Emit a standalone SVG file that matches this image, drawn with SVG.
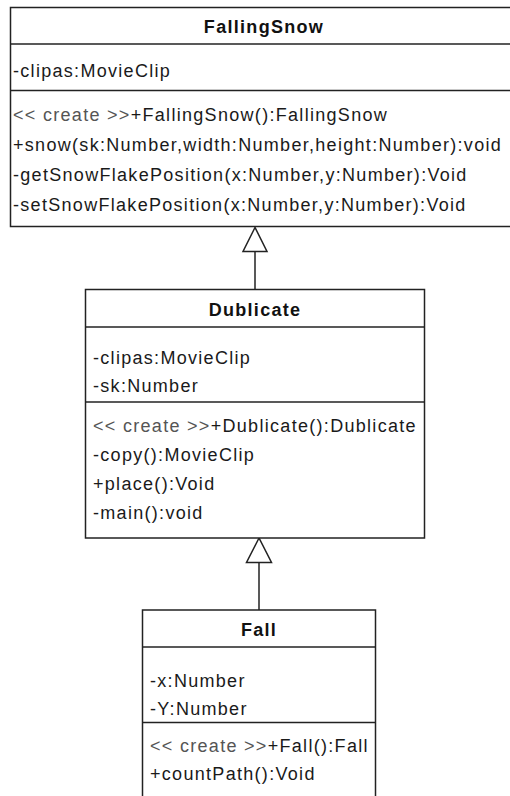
<svg xmlns="http://www.w3.org/2000/svg" width="510" height="796" viewBox="0 0 510 796">
  <defs>
    <style>
      .box { fill: #ffffff; stroke: #222222; stroke-width: 1.5; }
      .sep { stroke: #222222; stroke-width: 1.5; }
      .title { font-family: "Liberation Sans", Arial, sans-serif; font-size: 18px; font-weight: bold; fill: #111111; letter-spacing: 1.3px; text-anchor: middle; }
      .member { font-family: "Liberation Sans", Arial, sans-serif; font-size: 18px; fill: #1a1a1a; letter-spacing: 1.3px; }
      .stereo { fill: #555555; }
      .edge { fill: none; stroke: #222222; stroke-width: 1.5; }
      .head { fill: #ffffff; stroke: #222222; stroke-width: 1.5; stroke-linejoin: miter; }
    </style>
  </defs>
  <rect x="0" y="0" width="510" height="796" fill="#ffffff"/>

  <!-- inheritance connectors -->
  <g id="connectors">
    <line class="edge" x1="255" y1="251.5" x2="255" y2="289.5"/>
    <polygon class="head" points="255,227.5 243,251.5 267,251.5"/>
    <line class="edge" x1="259" y1="562.5" x2="259" y2="610"/>
    <polygon class="head" points="259,538 246.5,562.5 271.5,562.5"/>
  </g>

  <!-- class FallingSnow -->
  <g id="FallingSnow">
    <rect class="box" x="10.5" y="7.5" width="508" height="219"/>
    <line class="sep" x1="10.5" y1="44" x2="518.5" y2="44"/>
    <line class="sep" x1="10.5" y1="90.5" x2="518.5" y2="90.5"/>
    <text class="title" x="264" y="33">FallingSnow</text>
    <text class="member" x="13" y="77">-clipas:MovieClip</text>
    <text class="member" x="13" y="120.5"><tspan class="stereo">&lt;&lt; create &gt;&gt;</tspan>+FallingSnow():FallingSnow</text>
    <text class="member" x="13" y="150.5">+snow(sk:Number,width:Number,height:Number):void</text>
    <text class="member" x="13" y="180.5">-getSnowFlakePosition(x:Number,y:Number):Void</text>
    <text class="member" x="13" y="210.5">-setSnowFlakePosition(x:Number,y:Number):Void</text>
  </g>

  <!-- class Dublicate -->
  <g id="Dublicate">
    <rect class="box" x="85.5" y="289.5" width="339" height="248.5"/>
    <line class="sep" x1="85.5" y1="327" x2="424.5" y2="327"/>
    <line class="sep" x1="85.5" y1="402" x2="424.5" y2="402"/>
    <text class="title" x="255" y="316">Dublicate</text>
    <text class="member" x="93" y="364">-clipas:MovieClip</text>
    <text class="member" x="93" y="392">-sk:Number</text>
    <text class="member" x="93" y="432"><tspan class="stereo">&lt;&lt; create &gt;&gt;</tspan>+Dublicate():Dublicate</text>
    <text class="member" x="93" y="461">-copy():MovieClip</text>
    <text class="member" x="93" y="490">+place():Void</text>
    <text class="member" x="93" y="518.5">-main():void</text>
  </g>

  <!-- class Fall -->
  <g id="Fall">
    <rect class="box" x="142.5" y="610" width="233" height="200"/>
    <line class="sep" x1="142.5" y1="647" x2="375.5" y2="647"/>
    <line class="sep" x1="142.5" y1="722.5" x2="375.5" y2="722.5"/>
    <text class="title" x="259" y="636">Fall</text>
    <text class="member" x="150" y="687">-x:Number</text>
    <text class="member" x="150" y="715">-Y:Number</text>
    <text class="member" x="150" y="752"><tspan class="stereo">&lt;&lt; create &gt;&gt;</tspan>+Fall():Fall</text>
    <text class="member" x="150" y="780">+countPath():Void</text>
  </g>
</svg>
